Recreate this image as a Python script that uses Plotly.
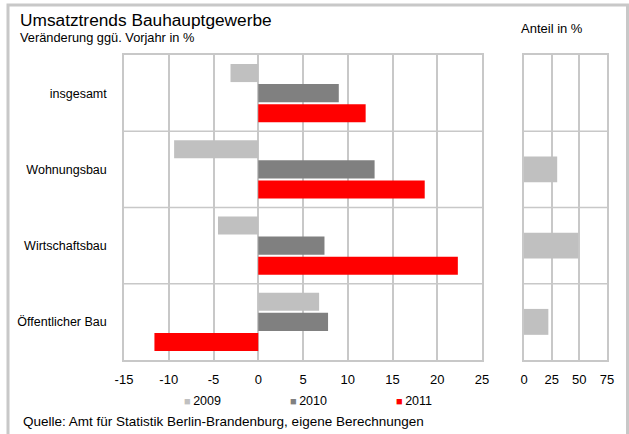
import plotly.graph_objects as go

W, H = 629, 434
FONT = "Liberation Sans, Arial, sans-serif"

categories = ["insgesamt", "Wohnungsbau", "Wirtschaftsbau", "Öffentlicher Bau"]
years = ["2009", "2010", "2011"]
val_2009 = [-3.1, -9.4, -4.5, 6.8]
val_2010 = [9.0, 13.0, 7.4, 7.8]
val_2011 = [12.0, 18.6, 22.3, -11.6]
anteil = [None, 30, 49, 22]
colors = ["#c0c0c0", "#808080", "#ff0000"]

x_ticks_main = [-15, -10, -5, 0, 5, 10, 15, 20, 25]
x_ticklabels_main = ["-15", "-10", "-5", "0", "5", "10", "15", "20", "25"]
x_ticks_share = [0, 25, 50, 75]
x_ticklabels_share = ["0", "25", "50", "75"]

def px(x):
    return x / W

def py(y):
    return 1 - y / H

GRID = "#c8c8c8"

fig = go.Figure()
for yr, vals, col in zip(years, [val_2009, val_2010, val_2011], colors):
    fig.add_trace(go.Bar(
        y=categories, x=vals, orientation="h", name=yr,
        marker=dict(color=col, line=dict(width=0)),
        xaxis="x", yaxis="y", showlegend=False,
    ))

fig.add_trace(go.Bar(
    y=categories, x=anteil, orientation="h", name="Anteil",
    marker=dict(color="#c0c0c0", line=dict(width=0)),
    width=0.34, showlegend=False, xaxis="x2", yaxis="y2",
))

shapes = []
for i in range(len(categories) - 1):
    shapes.append(dict(type="line", xref="x domain", yref="y", x0=0, x1=1,
                       y0=i + 0.5, y1=i + 0.5, line=dict(color=GRID, width=1.5), layer="below"))
    shapes.append(dict(type="line", xref="x2 domain", yref="y2", x0=0, x1=1,
                       y0=i + 0.5, y1=i + 0.5, line=dict(color=GRID, width=1.5), layer="below"))
# outer frame
shapes.append(dict(type="rect", xref="paper", yref="paper",
                   x0=px(8), x1=px(627.5), y0=py(5), y1=py(440),
                   line=dict(color="#c8c8c8", width=3)))

axis_common = dict(showgrid=True, gridcolor=GRID, gridwidth=1.5, zeroline=False,
                   showline=True, linecolor=GRID, linewidth=1.5, mirror=True,
                   ticks="", tickfont=dict(size=13, color="#000", family=FONT),
                   fixedrange=True, automargin=False)

legend_x = [182, 288, 394]
annotations = [
    dict(text="Umsatztrends Bauhauptgewerbe", xref="paper", yref="paper",
         x=px(18), y=py(19.5), xanchor="left", yanchor="middle", showarrow=False,
         font=dict(size=17.3)),
    dict(text="Veränderung ggü. Vorjahr in %", xref="paper", yref="paper",
         x=px(18), y=py(37), xanchor="left", yanchor="middle", showarrow=False,
         font=dict(size=12.8)),
    dict(text="Anteil in %", xref="paper", yref="paper",
         x=px(552), y=py(29), xanchor="center", yanchor="middle", showarrow=False,
         font=dict(size=13)),
    dict(text="Quelle: Amt für Statistik Berlin-Brandenburg, eigene Berechnungen",
         xref="paper", yref="paper", x=px(21), y=py(421), xanchor="left",
         yanchor="middle", showarrow=False, font=dict(size=13.5)),
]
for xx, yr, col in zip(legend_x, years, colors):
    annotations.append(dict(
        text=f"<span style='color:{col};font-size:11px'>■</span>&#8201;{yr}",
        xref="paper", yref="paper", x=px(xx), y=py(401), xanchor="left",
        yanchor="middle", showarrow=False, font=dict(size=12.5)))

fig.update_layout(
    template="none",
    width=W, height=H, autosize=False,
    margin=dict(l=0, r=0, t=0, b=0, pad=0, autoexpand=False),
    paper_bgcolor="white", plot_bgcolor="white",
    font=dict(family=FONT, size=12, color="#000"),
    barmode="group", bargap=0.21, bargroupgap=0.1,
    showlegend=False,
    xaxis=dict(domain=[px(124), px(482)], range=[-15, 25], tickvals=x_ticks_main,
               ticktext=x_ticklabels_main, anchor="y", ticklabelstandoff=7, **axis_common),
    yaxis=dict(domain=[py(360), py(55)], type="category", autorange="reversed",
               showgrid=False, zeroline=False, showline=True, linecolor=GRID,
               linewidth=1.5, mirror=True, ticks="", ticklabelstandoff=13,
               tickfont=dict(size=12.5, color="#000", family=FONT), anchor="x",
               automargin=False),
    xaxis2=dict(domain=[px(524), px(607)], range=[0, 75], tickvals=x_ticks_share,
                ticktext=x_ticklabels_share, anchor="y2", ticklabelstandoff=7, **axis_common),
    yaxis2=dict(domain=[py(360), py(55)], type="category", autorange="reversed",
                showgrid=False, zeroline=False, showline=True, linecolor=GRID,
                linewidth=1.5, mirror=True, ticks="", showticklabels=False, anchor="x2",
                automargin=False),
    shapes=shapes,
    annotations=annotations,
)

fig.write_html("out.html", config={"displayModeBar": False},
               post_script="document.body.style.margin='0px';document.body.style.overflow='hidden';")
